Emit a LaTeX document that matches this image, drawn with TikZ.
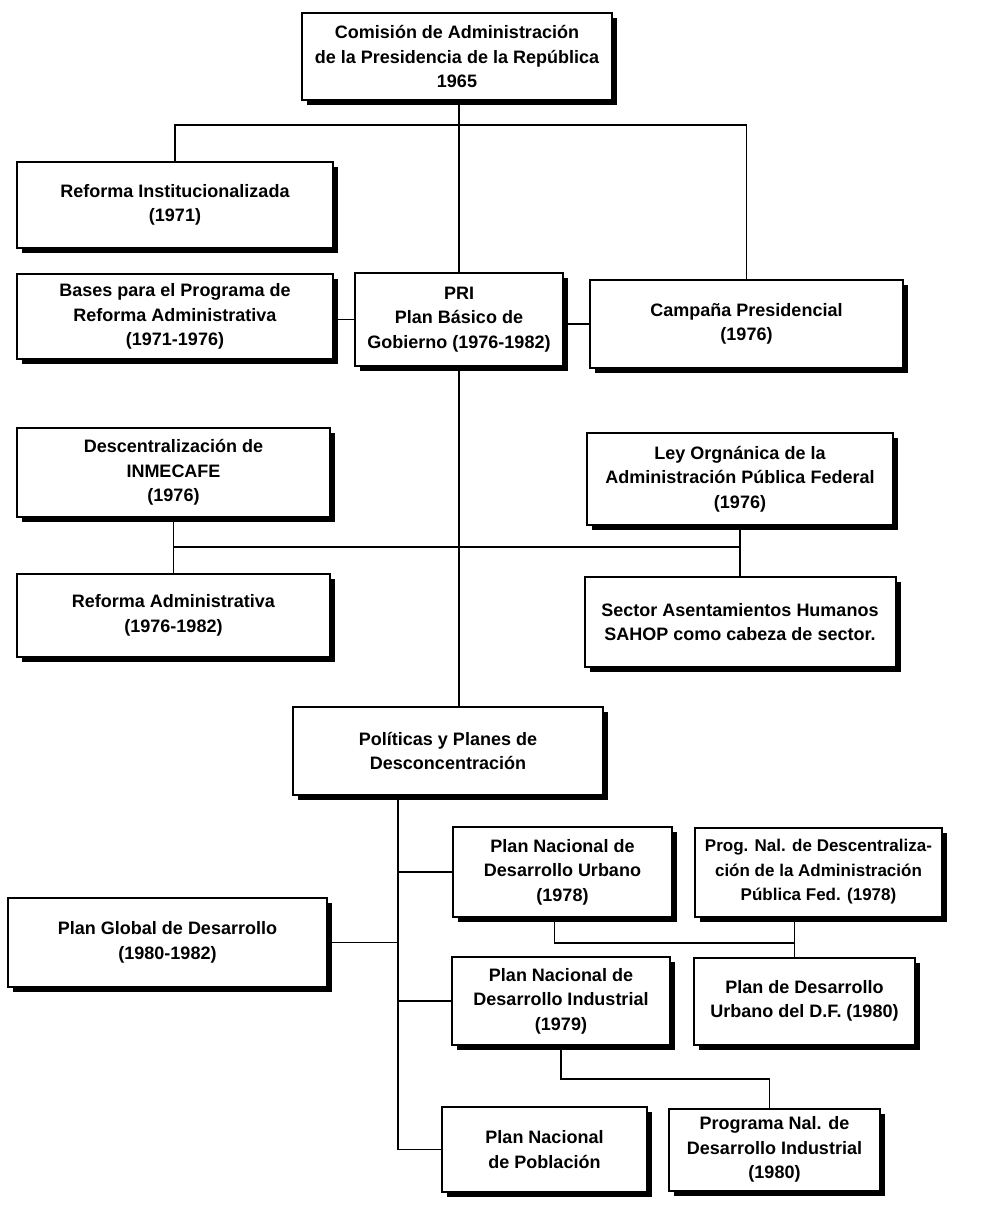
\documentclass[tikz,border=0pt]{standalone}
\usepackage{fontspec}
\setmainfont{Liberation Sans}
\usetikzlibrary{shadows,positioning}

\begin{document}
\begin{tikzpicture}[x=1pt,y=-1pt,
                    box node/.style={draw,line width=2pt,fill=white,align=center,inner sep=0pt,
                                     font=\fontsize{18}{24.5}\selectfont\bfseries,
                                     drop shadow={shadow xshift=5pt,shadow yshift=-5pt,fill=black,opacity=1}},
                    boxsize/.style 2 args={minimum width=#1pt,minimum height=#2pt},
                    link/.style={line width=1.5pt}]
\useasboundingbox (0,0) rectangle (992,1205);

% upper part
\node[box node,boxsize={310}{87}] (comision) at (457,56.5) {Comisión de Administración\\de la Presidencia de la República\\1965};
\node[box node,boxsize={316}{86}] (reforma) at (175,205) {Reforma Institucionalizada\\(1971)};
\node[box node,boxsize={316}{85},below=24pt of reforma] (bases) {Bases para el Programa de\\Reforma Administrativa\\(1971-1976)};
\node[box node,boxsize={208}{93}] (pri) at (459,319.5) {PRI\\Plan Básico de\\Gobierno (1976-1982)};
\node[box node,boxsize={313}{88}] (campana) at (746.5,324) {Campaña Presidencial\\(1976)};

% middle part
\node[box node,boxsize={313}{89}] (inmecafe) at (173.5,472.5) {Descentralización de\\INMECAFE\\(1976)};
\node[box node,boxsize={313}{83},below=55pt of inmecafe] (reformaadm) {Reforma Administrativa\\(1976-1982)};
\node[box node,boxsize={306}{92}] (ley) at (740,479) {Ley Orgnánica de la\\Administración Pública Federal\\(1976)};
\node[box node,boxsize={311}{90},below=50pt of ley] (sahop) {Sector Asentamientos Humanos\\SAHOP como cabeza de sector.};
\node[box node,boxsize={310}{88}] (politicas) at (448,751) {Políticas y Planes de\\Desconcentración};

% lower part
\node[box node,boxsize={219}{90}] (pndu) at (562.5,872) {Plan Nacional de\\Desarrollo Urbano\\(1978)};
\node[box node,boxsize={247}{89},right=21pt of pndu,font=\fontsize{17}{24.5}\selectfont\bfseries] (progdesc) {Prog. Nal. de Descentraliza-\\ción de la Administración\\Pública Fed. (1978)};
\node[box node,boxsize={319}{89}] (global) at (167.5,942.5) {Plan Global de Desarrollo\\(1980-1982)};
\node[box node,boxsize={218}{88}] (pndi) at (561,1001) {Plan Nacional de\\Desarrollo Industrial\\(1979)};
\node[box node,boxsize={221}{87},right=22pt of pndi] (plandf) {Plan de Desarrollo\\Urbano del D.F. (1980)};
\node[box node,boxsize={205}{85}] (poblacion) at (544.5,1149.5) {Plan Nacional\\de Población};
\node[box node,boxsize={211}{82},right=20pt of poblacion] (programa) {Programa Nal. de\\Desarrollo Industrial\\(1980)};

\coordinate (bus1) at (460,125);
\coordinate (bus2) at (460,547);
\coordinate (trunk) at ([xshift=-50pt]politicas.south);

\draw[link] (comision.south -| pri.north) -- (pri.north);
\draw[link] (pri.south) -- (pri.south |- politicas.north);
\draw[link] (reforma.north) -- (reforma.north |- bus1) -- (campana.north |- bus1) -- (campana.north);
\draw[link] (pri.west) -- (pri.west -| bases.east);
\draw[link] (campana.west) -- (campana.west -| pri.east);
\draw[link] (inmecafe.south) -- (reformaadm.north);
\draw[link] (ley.south) -- (sahop.north);
\draw[link] (inmecafe.south |- bus2) -- (ley.south |- bus2);
\draw[link] (trunk) |- (poblacion.west);
\draw[link] (pndu.west) -- (pndu.west -| trunk);
\draw[link] (global.east) -- (global.east -| trunk);
\draw[link] (pndi.west) -- (pndi.west -| trunk);
\draw[link] ([xshift=-8pt]pndu.south) -- ++(0,25) -| ([xshift=-10pt]plandf.north);
\draw[link] ([xshift=-10pt]plandf.north) -- ([xshift=-10pt]plandf.north |- progdesc.south);
\draw[link] (pndi.south) -- ++(0,33) -| ([xshift=-5pt]programa.north);
\end{tikzpicture}
\end{document}
